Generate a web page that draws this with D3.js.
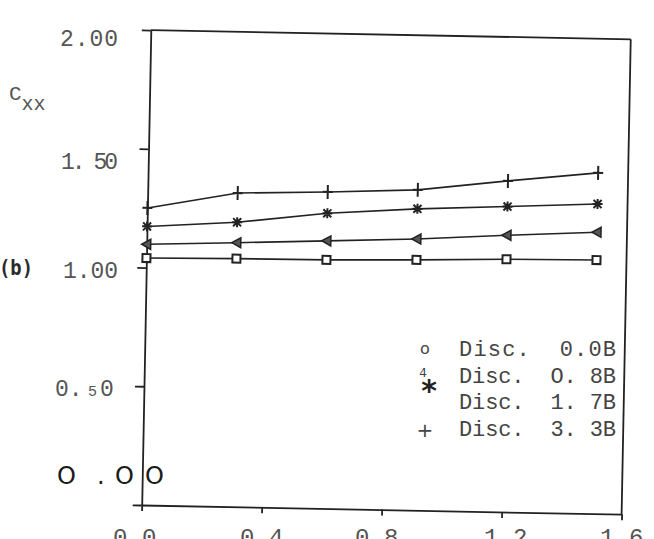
<!DOCTYPE html>
<html><head><meta charset="utf-8">
<script src="https://cdn.jsdelivr.net/npm/d3@7"></script>
<style>
html,body{margin:0;padding:0;background:#fff;}
svg{display:block;}
</style></head>
<body>
<svg id="chart" width="654" height="539"></svg>
<script>
// ---- data ----
const xValues = [0, 0.3, 0.6, 0.9, 1.2, 1.5];
const seriesSquare   = [1.040, 1.045, 1.047, 1.054, 1.064, 1.068];
const seriesTriangle = [1.098, 1.112, 1.127, 1.142, 1.165, 1.185];
const seriesStar     = [1.173, 1.198, 1.243, 1.269, 1.286, 1.304];
const seriesPlus     = [1.251, 1.321, 1.333, 1.349, 1.394, 1.435];
const yTickValues = [0, 0.5, 1.0, 1.5, 2.0];
const yTickLabels = ["O .OO", "0. 5 0", "1.00", "1. 50", "2.00"];
const xTickValues = [0, 0.4, 0.8, 1.2, 1.6];
const xTickLabels = ["0.0", "0.4", "0.8", "1.2", "1.6"];
const legendLabels = ["Disc.  0.0B", "Disc.  O. 8B", "Disc.  1. 7B", "Disc.  3. 3B"];

// ---- layout ----
const svg = d3.select("#chart");
const W = 480, H = 475;
const ox = 141.7, oy = 505, rot = 1.1;
const x = d3.scaleLinear().domain([0, 1.6]).range([0, W]);
const y = d3.scaleLinear().domain([0, 2]).range([0, -H]);
const ink = "#222";

const g = svg.append("g").attr("transform", `translate(${ox},${oy}) rotate(${rot})`);

// axes
const yAxis = g.append("g").call(d3.axisLeft(y).tickValues(yTickValues).tickSize(9).tickSizeOuter(0).tickFormat(""));
const xAxis = g.append("g").call(d3.axisBottom(x).tickValues(xTickValues).tickSize(6).tickSizeOuter(0).tickFormat(""));
[yAxis, xAxis].forEach(a => {
  a.selectAll("path,line").attr("stroke", ink).attr("stroke-width", 1.8);
});
// box: top and right
g.append("line").attr("x1", x(0)).attr("x2", x(1.6)).attr("y1", y(2)).attr("y2", y(2)).attr("stroke", ink).attr("stroke-width", 1.8);
g.append("line").attr("x1", x(1.6)).attr("x2", x(1.6)).attr("y1", y(0)).attr("y2", y(2)).attr("stroke", ink).attr("stroke-width", 1.8);

// series
const line = d3.line().x((d, i) => x(xValues[i])).y(d => y(d));
const series = [
  {vals: seriesSquare, m: "square"},
  {vals: seriesTriangle, m: "triangle"},
  {vals: seriesStar, m: "star"},
  {vals: seriesPlus, m: "plus"}
];
series.forEach(s => {
  g.append("path").datum(s.vals).attr("d", line).attr("fill", "none")
    .attr("stroke", ink).attr("stroke-width", 1.6);
  const pts = g.selectAll(null).data(s.vals).enter().append("g")
    .attr("transform", (d, i) => `translate(${x(xValues[i])},${y(d)})`);
  if (s.m === "square") {
    pts.append("rect").attr("x", -4).attr("y", -4).attr("width", 8).attr("height", 8)
      .attr("fill", "#fff").attr("stroke", ink).attr("stroke-width", 2);
  } else if (s.m === "triangle") {
    pts.append("path").attr("d", "M-5,0 L4,-5 L4,5 Z").attr("fill", "#555").attr("stroke", ink).attr("stroke-width", 1.5);
  } else if (s.m === "star") {
    pts.append("path").attr("d", "M-5,0 L5,0 M0,-5 L0,5 M-4,-4 L4,4 M-4,4 L4,-4")
      .attr("stroke", ink).attr("stroke-width", 2);
  } else {
    pts.append("path").attr("d", "M-5,0 L5,0 M0,-7 L0,7").attr("stroke", ink).attr("stroke-width", 2);
  }
});

// y tick labels (unrotated, typewriter style)
const labelNudge = [ {dx: 0, dy: -30}, {dx: 0, dy: 2}, {dx: 0, dy: 2}, {dx: 0, dy: 12}, {dx: 0, dy: 8} ];
const labelWidths = [0, 58, 55, 57, 58];
yTickValues.forEach((v, i) => {
  const ty = oy + y(v) + labelNudge[i].dy;
  if (i === 0) {
    const t = svg.append("text").attr("y", ty + 9).attr("font-family", "DejaVu Sans, sans-serif")
      .attr("font-size", 24).attr("fill", "#1a1a1a");
    t.append("tspan").attr("x", 57).text("O");
    t.append("tspan").attr("x", 97).text(".");
    t.append("tspan").attr("x", 115).text("O");
    t.append("tspan").attr("x", 145).text("O");
  } else if (i === 1) {
    const t = svg.append("text").attr("y", ty + 8).attr("font-family", "Liberation Mono, monospace")
      .attr("font-size", 23).attr("fill", "#555");
    t.append("tspan").attr("x", 55).text("0.");
    t.append("tspan").attr("x", 88).attr("font-size", 15).text("5");
    t.append("tspan").attr("x", 100).text("0");
  } else {
    svg.append("text").attr("x", 118 + labelNudge[i].dx).attr("y", ty + 8)
      .attr("text-anchor", "end").attr("font-family", "Liberation Mono, monospace")
      .attr("font-size", 23).attr("fill", "#555")
      .attr("textLength", labelWidths[i]).attr("lengthAdjust", "spacing")
      .attr("xml:space", "preserve").text(yTickLabels[i]);
  }
});
// panel tag
svg.append("text").attr("x", -1).attr("y", 275).attr("font-family", "DejaVu Sans Mono, monospace")
  .attr("font-size", 22).attr("font-weight", "bold").attr("fill", "#2a2a2a")
  .attr("textLength", 34).attr("lengthAdjust", "spacingAndGlyphs").text("(b)");

// x tick labels
const xNudge = [-7, 0, -5, 4, 0];
xTickValues.forEach((v, i) => {
  svg.append("text").attr("x", ox + x(v) + xNudge[i]).attr("y", 545)
    .attr("text-anchor", "middle").attr("font-family", "Liberation Mono, monospace")
    .attr("font-size", 24).attr("fill", "#555").text(xTickLabels[i]);
});

// axis title C_xx
const ct = svg.append("text").attr("x", 9).attr("y", 100).attr("font-family", "Liberation Mono, monospace")
  .attr("fill", "#555");
ct.append("tspan").attr("font-size", 21).text("C");
ct.append("tspan").attr("font-size", 20).attr("dy", 10).text("xx");

// legend
const legY = [356, 383, 409, 436];
legendLabels.forEach((lab, i) => {
  svg.append("text").attr("x", 459).attr("y", legY[i]).attr("font-family", "Liberation Mono, monospace")
    .attr("font-size", 22).attr("fill", "#444").attr("xml:space", "preserve")
    .attr("textLength", 157).attr("lengthAdjust", "spacing").text(lab);
});
svg.append("text").attr("x", 425).attr("y", 354).attr("text-anchor", "middle")
  .attr("font-family", "DejaVu Sans, sans-serif").attr("font-size", 16).attr("fill", "#444").text("o");
svg.append("text").attr("x", 423).attr("y", 377).attr("text-anchor", "middle")
  .attr("font-family", "DejaVu Sans, sans-serif").attr("font-size", 12).attr("fill", "#444").text("4");
svg.append("text").attr("x", 429).attr("y", 401).attr("text-anchor", "middle")
  .attr("font-family", "DejaVu Sans, sans-serif").attr("font-size", 30).attr("font-weight", "bold").attr("fill", "#222").text("*");
svg.append("text").attr("x", 425).attr("y", 437).attr("text-anchor", "middle")
  .attr("font-family", "DejaVu Sans, sans-serif").attr("font-size", 20).attr("fill", "#444").text("+");
</script>
</body></html>
